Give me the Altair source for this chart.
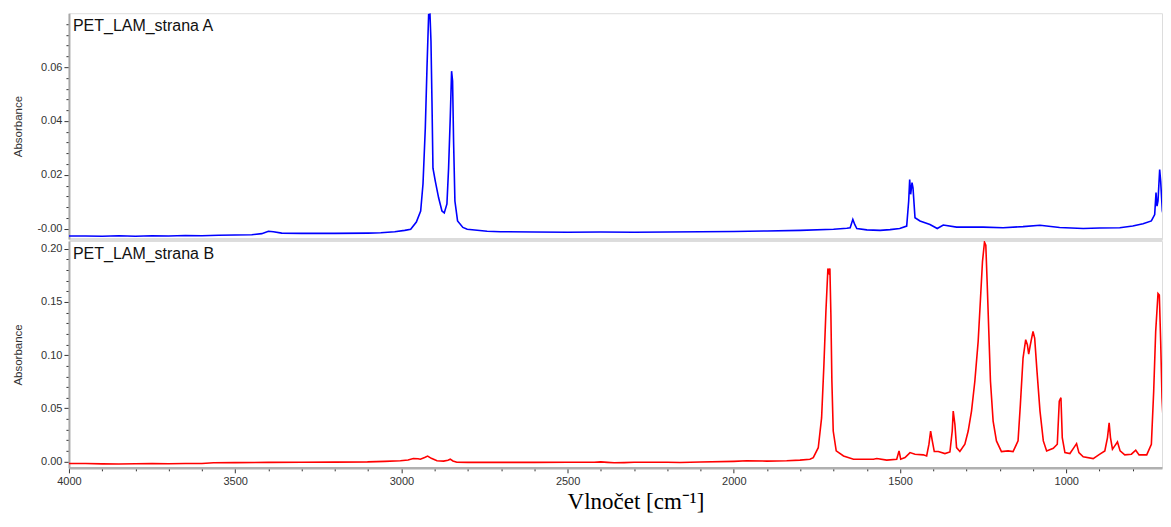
import altair as alt
import pandas as pd

# ---- data ----
label_a = "PET_LAM_strana A"
label_b = "PET_LAM_strana B"

wn_a = [4000, 3950, 3900, 3850, 3800, 3750, 3700, 3650, 3600, 3550, 3500, 3450, 3420, 3400,
        3385, 3360, 3300, 3200, 3100, 3062, 3020, 2990, 2972, 2955, 2942, 2935, 2928, 2923,
        2918, 2914, 2911, 2908, 2905, 2898, 2888, 2878, 2871, 2863, 2858, 2853, 2849, 2846,
        2843, 2839, 2831, 2815, 2802, 2742, 2702, 2600, 2500, 2400, 2300, 2200, 2100, 2000,
        1900, 1800, 1700, 1660, 1650, 1642, 1636, 1630, 1600, 1560, 1530, 1501, 1480, 1474,
        1471, 1468, 1464, 1461, 1455, 1440, 1410, 1388, 1370, 1330, 1250, 1190, 1130, 1079,
        1020, 949, 900, 839, 800, 769, 744, 734, 730, 727, 724, 719, 716, 711, 704, 685]
abs_a = [-0.0027, -0.0027, -0.0028, -0.0026, -0.0028, -0.0026, -0.0027, -0.0025, -0.0026,
         -0.0024, -0.0023, -0.0022, -0.0018, -0.0009, -0.0011, -0.0016, -0.0017, -0.0017,
         -0.0016, -0.0015, -0.0011, -0.0006, -0.0002, 0.0025, 0.0066, 0.0166, 0.0375, 0.0597,
         0.0795, 0.0797, 0.0696, 0.0474, 0.0225, 0.0177, 0.0115, 0.0066, 0.0059, 0.0092,
         0.0225, 0.0412, 0.0585, 0.0548, 0.0325, 0.0103, 0.0029, 0.0005, -0.0002, -0.0009,
         -0.0011, -0.0012, -0.0013, -0.0012, -0.0013, -0.0012, -0.0011, -0.0010, -0.0008,
         -0.0006, -0.0002, 0.0002, 0.0004, 0.0035, 0.0015, 0.0001, -0.0004, -0.0006, -0.0003,
         0.0001, 0.0010, 0.0103, 0.0183, 0.0128, 0.0171, 0.0152, 0.0041, 0.0029, 0.0016,
         0.0001, 0.0014, 0.0006, 0.0006, 0.0004, 0.0008, 0.0013, 0.0005, 0.0001, 0.0003,
         0.0004, 0.0010, 0.0019, 0.0029, 0.0053, 0.0134, 0.0084, 0.0103, 0.0220, 0.0177,
         0.0066, 0.0029, 0.0016]

wn_b = [4000, 3950, 3900, 3850, 3800, 3750, 3700, 3650, 3600, 3565, 3500, 3400, 3300, 3200,
        3102, 3050, 3003, 2980, 2964, 2950, 2943, 2930, 2921, 2910, 2893, 2873, 2860, 2853,
        2845, 2833, 2800, 2700, 2600, 2500, 2420, 2400, 2380, 2360, 2330, 2300, 2200, 2162,
        2100, 2000, 1961, 1900, 1841, 1801, 1771, 1761, 1746, 1736, 1729, 1723, 1717, 1714,
        1711, 1708, 1705, 1701, 1692, 1670, 1640, 1580, 1570, 1540, 1510, 1503, 1498, 1485,
        1470, 1455, 1430, 1420, 1413, 1408, 1403, 1397, 1385, 1365, 1350, 1343, 1340, 1335,
        1330, 1320, 1305, 1295, 1285, 1275, 1265, 1258, 1252, 1246, 1242, 1238, 1233, 1228,
        1220, 1210, 1195, 1175, 1160, 1145, 1138, 1130, 1122, 1117, 1113, 1108, 1100, 1095,
        1088, 1079, 1069, 1059, 1039, 1027, 1021, 1016, 1012, 1004, 989, 977, 969, 962, 949,
        919, 899, 884, 876, 871, 867, 861, 854, 846, 838, 824, 804, 791, 781, 758, 744, 737,
        731, 724, 720, 716, 712, 706, 698, 685]
abs_b = [-0.0019, -0.0019, -0.0022, -0.0023, -0.0021, -0.0019, -0.0021, -0.0019, -0.0019,
         -0.0012, -0.0010, -0.0008, -0.0006, -0.0005, -0.0003, 0.0002, 0.0007, 0.0015,
         0.0028, 0.0026, 0.0022, 0.0038, 0.0051, 0.0030, 0.0007, 0.0004, 0.0012, 0.0022,
         0.0005, -0.0006, -0.0008, -0.0008, -0.0008, -0.0007, -0.0006, -0.0003, -0.0008,
         -0.0012, -0.0010, -0.0006, -0.0007, -0.0009, -0.0004, 0.0002, 0.0007, 0.0004,
         0.0007, 0.0013, 0.0022, 0.0037, 0.013, 0.041, 0.091, 0.141, 0.1815, 0.178, 0.1815,
         0.138, 0.0755, 0.0287, 0.010, 0.0053, 0.0022, 0.0022, 0.0028, 0.0013, 0.0022, 0.010,
         0.0022, 0.0037, 0.0084, 0.0069, 0.0063, 0.0053, 0.0163, 0.0287, 0.0194, 0.0094,
         0.0094, 0.0075, 0.0090, 0.0287, 0.0474, 0.035, 0.0131, 0.0094, 0.0163, 0.0287,
         0.0474, 0.0755, 0.113, 0.153, 0.188, 0.2062, 0.2034, 0.169, 0.1223, 0.0755, 0.038,
         0.0194, 0.0094, 0.010, 0.0094, 0.0194, 0.0537, 0.0973, 0.1145, 0.1098, 0.101, 0.1098,
         0.1223, 0.116, 0.0848, 0.0474, 0.0194, 0.010, 0.0125, 0.0163, 0.0568, 0.060, 0.0225,
         0.0084, 0.0075, 0.0131, 0.0168, 0.0084, 0.0044, 0.0028, 0.0069, 0.010, 0.0225,
         0.0365, 0.0225, 0.0116, 0.0147, 0.0184, 0.010, 0.0063, 0.0069, 0.0107, 0.0063,
         0.0063, 0.0163, 0.0661, 0.1223, 0.158, 0.1566, 0.113, 0.060, 0.0225, 0.010, 0.0053]

x_ticks = list(range(4000, 799, -100))
y_ticks_a = [round(i * 0.004, 3) for i in range(0, 20)]
y_ticks_b = [round(i * 0.01, 2) for i in range(0, 21)]

x_domain = [4000, 712]
y_domain_a = [-0.0038, 0.0800]
y_domain_b = [-0.0059, 0.2073]

W = 1094
H_A = 226
H_B = 227

df_a = pd.DataFrame({"wn": wn_a, "abs": abs_a})
df_b = pd.DataFrame({"wn": wn_b, "abs": abs_b})

FONT = "Liberation Sans"

def y_axis(step):
    test = f"abs(datum.value/{step} - round(datum.value/{step})) < 0.001"
    return alt.Axis(
        values=(y_ticks_a if step == 0.02 else y_ticks_b),
        labelExpr=f"({test}) ? (abs(datum.value) < 1e-9 && {1 if step == 0.02 else 0} ? '-0.00' : format(datum.value, '.2f')) : ''",
        tickSize={"condition": {"test": test, "value": 5}, "value": 3},
        tickColor="#333333", tickWidth=1,
        domainColor="#a8a8a8", domainWidth=2,
        labelFont=FONT, labelFontSize=11, labelColor="#333333", labelPadding=2,
        labelFlush=False, labelOverlap=False,
        title="Absorbance", titleFont=FONT, titleFontSize=11.5, titleFontWeight="normal",
        titleColor="#333333", titleX=-45, grid=False,
    )

x_axis_top = alt.Axis(values=x_ticks, labels=False, ticks=False, title=None,
                      domainColor="#dcdcdc", domainWidth=3, grid=False)

x_axis_bottom = alt.Axis(
    values=x_ticks,
    labelExpr="datum.value % 500 === 0 ? format(datum.value, 'd') : ''",
    tickSize={"condition": {"test": "datum.value % 500 === 0", "value": 5}, "value": 3},
    tickColor="#333333", tickWidth=1,
    domainColor="#b0b0b0", domainWidth=2.5,
    labelFont=FONT, labelFontSize=11, labelColor="#333333", labelPadding=3,
    labelFlush=False, labelOverlap=False,
    title="Vlnočet [cm⁻¹]", titleFont="Liberation Serif", titleFontSize=23,
    titleFontWeight="normal", titleColor="#000000", titleX=567, titleY=41,
    titleBaseline="alphabetic", grid=False,
)

def panel(df, label, color, y_dom, y_ax, x_ax, h):
    line = alt.Chart(df).mark_line(color=color, strokeWidth=1.6, clip=True).encode(
        x=alt.X("wn:Q", scale=alt.Scale(domain=x_domain, nice=False, zero=False), axis=x_ax),
        y=alt.Y("abs:Q", scale=alt.Scale(domain=y_dom, nice=False, zero=False), axis=y_ax),
        order=alt.Order("wn:Q", sort="descending"),
    )
    txt = alt.Chart(pd.DataFrame({"label": [label]})).mark_text(
        align="left", baseline="alphabetic", font=FONT, fontSize=16, color="#111111"
    ).encode(x=alt.value(4), y=alt.value(18), text="label:N")
    return alt.layer(line, txt).properties(width=W, height=h)

top = panel(df_a, label_a, "#0000ff", y_domain_a, y_axis(0.02), x_axis_top, H_A)
bottom = panel(df_b, label_b, "#ff0000", y_domain_b, y_axis(0.05), x_axis_bottom, H_B)

chart = alt.vconcat(top, bottom, spacing=2, bounds="flush").properties(
    padding={"left": 4, "top": 4, "right": 0, "bottom": 0}
).configure_view(stroke=None).configure(background="white")

chart.save("out.html", embed_options={"renderer": "svg", "actions": False})
